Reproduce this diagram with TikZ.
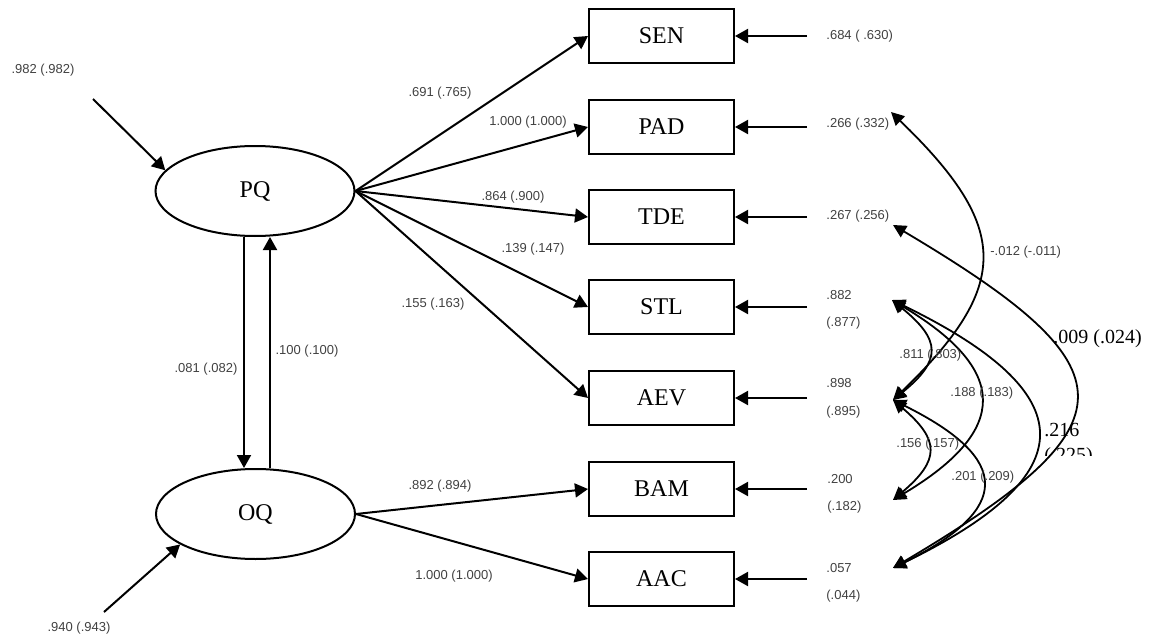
\documentclass[tikz,border=0pt]{standalone}
\usepackage{fontspec}
\setmainfont{Liberation Serif}
\newfontfamily\lsans{Liberation Sans}
\usetikzlibrary{arrows.meta,shapes.geometric}
\definecolor{labgray}{RGB}{65,65,65}
\begin{document}
\begin{tikzpicture}[x=0.5pt,y=-0.5pt,
 arr/.style={-{Triangle[length=6.5pt,width=7pt]}, line width=1pt},
 dbl/.style={{Triangle[length=6.5pt,width=6.5pt]}-{Triangle[length=6.5pt,width=6.5pt]}, line width=0.9pt},
 lat/.style={draw, ellipse, line width=1pt, minimum width=99.5pt, minimum height=45pt, inner sep=0pt, font=\fontsize{12}{14}\selectfont},
 obs/.style={draw, rectangle, line width=1pt, minimum width=72.5pt, minimum height=27pt, inner sep=0pt, font=\fontsize{12}{14}\selectfont},
 sl/.style={font=\lsans\fontsize{6.5}{8}\selectfont, text=labgray, inner sep=0pt},
 bl/.style={font=\fontsize{10}{12.5}\selectfont, inner sep=0pt}]
\useasboundingbox (0,0) rectangle (1152,637);

% latent variables
\node[lat] (PQ) at (255,191) {PQ};
\node[lat] (OQ) at (255.5,514) {OQ};

% observed variables
\node[obs] (SEN) at (661.5,36) {SEN};
\node[obs] (PAD) at (661.5,127) {PAD};
\node[obs] (TDE) at (661.5,217) {TDE};
\node[obs] (STL) at (661.5,307) {STL};
\node[obs] (AEV) at (661.5,398) {AEV};
\node[obs] (BAM) at (661.5,489) {BAM};
\node[obs] (AAC) at (661.5,579) {AAC};

% disturbances of latents
\coordinate (dPQ) at (93,99);
\coordinate (dOQ) at (104,612);
\draw[arr] (dPQ) -- (PQ.167);
\draw[arr] (dOQ) -- (OQ.202);
\node[sl] (l982) at (43,70) {.982 (.982)};
\node[sl] (l940) at (79,628) {.940 (.943)};

% reciprocal paths
\draw[arr] ([xshift=-5.5pt]PQ.south) -- ([xshift=-5.75pt]OQ.north);
\draw[arr] ([xshift=7.25pt]OQ.north) -- ([xshift=7.5pt]PQ.south);
\node[sl] (l081) at (206,369) {.081 (.082)};
\node[sl] (l100) at (307,351) {.100 (.100)};

% loadings
\draw[arr] (PQ.east) -- (SEN.west);
\draw[arr] (PQ.east) -- (PAD.west);
\draw[arr] (PQ.east) -- (TDE.west);
\draw[arr] (PQ.east) -- (STL.west);
\draw[arr] (PQ.east) -- (AEV.west);
\draw[arr] (OQ.east) -- (BAM.west);
\draw[arr] (OQ.east) -- (AAC.west);
\node[sl] (l691) at (440,93) {.691 (.765)};
\node[sl] (l1000a) at (528,122) {1.000 (1.000)};
\node[sl] (l864) at (513,197) {.864 (.900)};
\node[sl] (l139) at (533,249) {.139 (.147)};
\node[sl] (l155) at (433,304) {.155 (.163)};
\node[sl] (l892) at (440,486) {.892 (.894)};
\node[sl] (l1000b) at (454,576) {1.000 (1.000)};

% error terms
\foreach \n/\y in {SEN/36,PAD/127,TDE/217,STL/307,AEV/398,BAM/489,AAC/579}{
  \coordinate (e\n) at (807,\y);
  \draw[arr] (e\n) -- (\n.east);
}
\node[sl, anchor=west] (vSEN) at (826,36) {.684 ( .630)};
\node[sl, anchor=west] (vPAD) at (826,124) {.266 (.332)};
\node[sl, anchor=west] (vTDE) at (826,216) {.267 (.256)};
\node[sl, anchor=west] (vSTLa) at (826,295) {.882};
\node[sl, anchor=west] (vSTLb) at (826,323) {(.877)};
\node[sl, anchor=west] (vAEVa) at (826,383) {.898};
\node[sl, anchor=west] (vAEVb) at (826,412) {(.895)};
\node[sl, anchor=west] (vBAMa) at (827,479) {.200};
\node[sl, anchor=west] (vBAMb) at (827,507) {(.182)};
\node[sl, anchor=west] (vAACa) at (826,568) {.057};
\node[sl, anchor=west] (vAACb) at (826,596) {(.044)};

% correlation end points
\coordinate (cPAD) at (891,112);
\coordinate (cTDE) at (893,225);
\coordinate (cSTL) at (892,300);
\coordinate (cAEV) at (893,400);
\coordinate (cBAM) at (893,500);
\coordinate (cAAC) at (893,568);

\draw[dbl] (cPAD) .. controls +(119,115) and +(119,-115) .. (cAEV);
\draw[dbl] (cTDE) .. controls +(243,144) and +(243,-144) .. (cAAC);
\draw[dbl] (cSTL) .. controls +(49,40) and +(49,-40) .. (cAEV);
\draw[dbl] (cSTL) .. controls +(117,70) and +(117,-70) .. (cBAM);
\draw[dbl] (cSTL) .. controls +(193,94) and +(193,-94) .. (cAAC);
\draw[dbl] (cAEV) .. controls +(47,40) and +(47,-40) .. (cBAM);
\draw[dbl] (cAEV) .. controls +(119,59) and +(119,-59) .. (cAAC);

\node[sl, anchor=west] (r012) at (990,252) {-.012 (-.011)};
\node[sl, anchor=west] (r811) at (899,355) {.811 (.803)};
\node[sl, anchor=west] (r188) at (950,393) {.188 (.183)};
\node[sl, anchor=west] (r156) at (896,444) {.156 (.157)};
\node[sl, anchor=west] (r201) at (951,477) {.201 (.209)};
\node[bl, anchor=west] (r009) at (1053,339) {.009 (.024)};
\begin{scope}
\clip (1000,405) rectangle (1130,455);
\node[bl, anchor=north west, align=left] (r216) at (1044,423) {.216\\(.225)};
\end{scope}
\end{tikzpicture}
\end{document}
